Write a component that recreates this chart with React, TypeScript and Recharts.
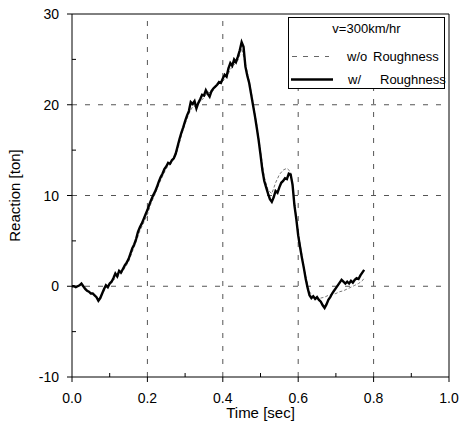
import React from 'react';
import { LineChart, Line, XAxis, YAxis, ReferenceLine, Legend } from 'recharts';

const xTicks = [0, 0.1, 0.2, 0.3, 0.4, 0.5, 0.6, 0.7, 0.8, 0.9, 1.0];
const yTicks = [-10, -5, 0, 5, 10, 15, 20, 25, 30];
const gridX = [0.2, 0.4, 0.6, 0.8];
const gridY = [0, 10, 20];

const speedTitle = 'v=300km/hr';
const smoothName = 'w/o Roughness';
const roughName = 'w/ Roughness';

// w/o roughness (thin dashed)
const smoothTimes = [
  0, 0.01, 0.02, 0.03, 0.04, 0.05, 0.06, 0.07, 0.08, 0.09,
  0.1, 0.11, 0.12, 0.13, 0.14, 0.15, 0.16, 0.17, 0.18, 0.19,
  0.2, 0.21, 0.22, 0.23, 0.24, 0.25, 0.26, 0.27, 0.28, 0.29,
  0.3, 0.31, 0.32, 0.33, 0.34, 0.35, 0.36, 0.37, 0.38, 0.39,
  0.4, 0.41, 0.42, 0.43, 0.44, 0.45, 0.46, 0.47, 0.48, 0.49,
  0.5, 0.51, 0.52, 0.53, 0.54, 0.55, 0.56, 0.57, 0.58, 0.59,
  0.6, 0.61, 0.62, 0.63, 0.64, 0.65, 0.66, 0.67, 0.68, 0.69,
  0.7, 0.71, 0.72, 0.73, 0.74, 0.75, 0.76, 0.77, 0.775,
];
const smoothValues = [
  0.0, 0.0, 0.1, 0.0, -0.4, -0.7, -1.0, -1.4, -0.9, -0.1,
  0.2, 0.7, 1.0, 1.4, 2.0, 2.7, 3.8, 4.9, 6.1, 7.0,
  7.9, 9.2, 10.1, 11.2, 12.1, 13.0, 13.4, 14.0, 15.0, 16.6,
  17.9, 19.0, 19.8, 19.9, 20.3, 20.8, 21.4, 21.3, 21.9, 22.3,
  22.6, 23.0, 23.9, 24.4, 24.9, 26.2, 24.5, 22.6, 20.3, 17.8,
  14.9, 12.0, 10.6, 10.2, 11.4, 12.3, 12.8, 13.0, 12.6, 9.3,
  5.9, 3.4, 1.1, -0.6, -1.2, -1.4, -1.3, -1.2, -1.0, -0.9,
  -0.8, -0.6, -0.5, -0.3, -0.1, 0.1, 0.3, 0.6, 0.9,
];

// w/ roughness (thick solid)
const roughTimes = [
  0, 0.005, 0.01, 0.015, 0.02, 0.025, 0.03, 0.035, 0.04, 0.045,
  0.05, 0.055, 0.06, 0.065, 0.07, 0.075, 0.08, 0.085, 0.09, 0.095,
  0.1, 0.105, 0.11, 0.115, 0.12, 0.125, 0.13, 0.135, 0.14, 0.145,
  0.15, 0.155, 0.16, 0.165, 0.17, 0.175, 0.18, 0.185, 0.19, 0.195,
  0.2, 0.205, 0.21, 0.215, 0.22, 0.225, 0.23, 0.235, 0.24, 0.245,
  0.25, 0.255, 0.26, 0.265, 0.27, 0.275, 0.28, 0.285, 0.29, 0.295,
  0.3, 0.305, 0.31, 0.315, 0.32, 0.325, 0.33, 0.335, 0.34, 0.345,
  0.35, 0.355, 0.36, 0.365, 0.37, 0.375, 0.38, 0.385, 0.39, 0.395,
  0.4, 0.405, 0.41, 0.415, 0.42, 0.425, 0.43, 0.435, 0.44, 0.445,
  0.45, 0.455, 0.46, 0.465, 0.47, 0.475, 0.48, 0.485, 0.49, 0.495,
  0.5, 0.505, 0.51, 0.515, 0.52, 0.525, 0.53, 0.535, 0.54, 0.545,
  0.55, 0.555, 0.56, 0.565, 0.57, 0.575, 0.58, 0.585, 0.59, 0.595,
  0.6, 0.605, 0.61, 0.615, 0.62, 0.625, 0.63, 0.635, 0.64, 0.645,
  0.65, 0.655, 0.66, 0.665, 0.67, 0.675, 0.68, 0.685, 0.69, 0.695,
  0.7, 0.705, 0.71, 0.715, 0.72, 0.725, 0.73, 0.735, 0.74, 0.745,
  0.75, 0.755, 0.76, 0.765, 0.77, 0.775,
];
const roughValues = [
  0.0, 0.0, -0.1, 0.0, 0.1, 0.3, 0.0, -0.3, -0.5, -0.6,
  -0.8, -0.8, -1.0, -1.2, -1.6, -1.3, -0.8, -0.3, 0.1, -0.1,
  0.3, 0.5, 0.9, 1.4, 1.1, 1.7, 1.5, 1.9, 2.3, 2.6,
  3.0, 3.6, 4.2, 4.6, 5.2, 6.0, 6.5, 6.9, 7.4, 7.9,
  8.4, 9.0, 9.5, 10.0, 10.4, 10.9, 11.5, 12.0, 12.4, 12.9,
  13.2, 13.6, 13.5, 13.9, 14.1, 14.6, 15.4, 16.2, 16.9, 17.5,
  18.2, 18.8, 19.3, 20.3, 20.1, 20.4, 19.6, 20.2, 20.6, 21.1,
  21.0, 21.6, 21.2, 20.9, 21.5, 21.8, 22.0, 22.2, 22.5, 22.4,
  22.9, 23.3, 23.1, 24.0, 24.6, 24.3, 25.0, 24.7, 25.3, 26.0,
  26.9, 26.4, 24.2, 23.2, 22.4, 21.2, 20.0, 18.8, 17.5, 16.1,
  14.5, 12.8, 11.6, 10.9, 10.2, 9.6, 9.3, 9.8, 10.5, 10.3,
  10.9, 11.4, 11.6, 11.9, 11.8, 12.4, 12.3, 11.2, 8.9, 7.4,
  5.6, 4.3, 3.1, 2.0, 0.8, -0.2, -1.0, -1.3, -1.1, -1.4,
  -1.2, -1.5, -1.7, -2.1, -2.4, -2.0, -1.5, -1.2, -0.8, -0.5,
  -0.2, 0.1, 0.4, 0.7, 0.5, 0.3, 0.5, 0.3, 0.6, 0.4,
  0.7, 0.9, 0.8, 1.2, 1.5, 1.8,
];

const smoothData = smoothTimes.map((t, i) => ({ t, v: smoothValues[i] }));
const roughData = roughTimes.map((t, i) => ({ t, v: roughValues[i] }));

const FONT = '"Liberation Sans", Arial, sans-serif';

// major ticks point out and get a label, minor ones point in
const BottomTick = (props: any) => {
  const { x, y, index, payload } = props;
  const major = index % 2 === 0;
  return (
    <g>
      <line x1={x} x2={x} y1={y} y2={major ? y + 5 : y - 4} stroke="#000" />
      {major && (
        <text x={x} y={y + 26} textAnchor="middle" fontSize={14} fill="#000" fontFamily={FONT}>
          {payload.value.toFixed(1)}
        </text>
      )}
    </g>
  );
};

const TopTick = (props: any) => {
  const { x, y, index } = props;
  const major = index % 2 === 0;
  return <line x1={x} x2={x} y1={y} y2={major ? y - 5 : y + 4} stroke="#000" />;
};

const LeftTick = (props: any) => {
  const { x, y, index, payload } = props;
  const major = index % 2 === 0;
  return (
    <g>
      <line x1={x} x2={major ? x - 5 : x + 4} y1={y} y2={y} stroke="#000" />
      {major && (
        <text x={x - 13} y={y} dy="0.36em" textAnchor="end" fontSize={14} fill="#000" fontFamily={FONT}>
          {payload.value}
        </text>
      )}
    </g>
  );
};

const RightTick = (props: any) => {
  const { x, y, index } = props;
  const major = index % 2 === 0;
  return <line x1={x} x2={major ? x + 5 : x - 4} y1={y} y2={y} stroke="#000" />;
};

const LegendBox = () => {
  const [pre1, word1] = smoothName.split(' ');
  const [pre2, word2] = roughName.split(' ');
  const txt: React.CSSProperties = { position: 'absolute', fontSize: 13, lineHeight: '15px', color: '#000', whiteSpace: 'nowrap' };
  return (
    <div
      style={{
        position: 'relative',
        width: 157,
        height: 72,
        boxSizing: 'border-box',
        border: '1px solid #000',
        background: '#fff',
        fontFamily: FONT,
      }}
    >
      <div style={{ ...txt, left: 0, right: 0, top: 3, textAlign: 'center' }}>{speedTitle}</div>
      <svg width={50} height={72} style={{ position: 'absolute', left: 0, top: 0 }}>
        <line x1={3} x2={40} y1={38.5} y2={38.5} stroke="#666" strokeDasharray="5 6" />
        <line x1={2} x2={44} y1={61.5} y2={61.5} stroke="#000" strokeWidth={2.5} />
      </svg>
      <div style={{ ...txt, left: 58, top: 31 }}>{pre1}</div>
      <div style={{ ...txt, left: 84, top: 31 }}>{word1}</div>
      <div style={{ ...txt, left: 59, top: 54 }}>{pre2}</div>
      <div style={{ ...txt, left: 91, top: 54 }}>{word2}</div>
    </div>
  );
};

export default function App() {
  return (
    <div style={{ position: 'absolute', left: 0, top: 0, width: 460, height: 428, background: '#fff', fontFamily: FONT }}>
      <LineChart width={460} height={428} margin={{ top: 0, right: 0, bottom: 0, left: 0 }}>
        <XAxis
          dataKey="t"
          type="number"
          domain={[0, 1]}
          ticks={xTicks}
          interval={0}
          height={51}
          tickSize={0}
          tickMargin={0}
          tickLine={false}
          axisLine={{ stroke: '#000' }}
          tick={(p: any) => <BottomTick {...p} />}
          label={{ value: 'Time [sec]', position: 'insideBottom', offset: 10, fill: '#000', fontSize: 15 }}
        />
        <XAxis
          xAxisId="top"
          orientation="top"
          dataKey="t"
          type="number"
          domain={[0, 1]}
          ticks={xTicks}
          interval={0}
          height={14}
          tickSize={0}
          tickMargin={0}
          tickLine={false}
          axisLine={{ stroke: '#000' }}
          tick={(p: any) => <TopTick {...p} />}
        />
        <YAxis
          type="number"
          domain={[-10, 30]}
          ticks={yTicks}
          interval={0}
          width={72}
          tickSize={0}
          tickMargin={0}
          tickLine={false}
          axisLine={{ stroke: '#000' }}
          tick={(p: any) => <LeftTick {...p} />}
          label={{
            value: 'Reaction [ton]',
            angle: -90,
            position: 'insideLeft',
            offset: 15,
            fill: '#000',
            fontSize: 15,
            style: { textAnchor: 'middle' },
          }}
        />
        <YAxis
          yAxisId="right"
          orientation="right"
          type="number"
          domain={[-10, 30]}
          ticks={yTicks}
          interval={0}
          width={11}
          tickSize={0}
          tickMargin={0}
          tickLine={false}
          axisLine={{ stroke: '#000' }}
          tick={(p: any) => <RightTick {...p} />}
        />
        {gridX.map((v) => (
          <ReferenceLine key={'gx' + v} x={v} stroke="#555" strokeDasharray="5 8" />
        ))}
        {gridY.map((v) => (
          <ReferenceLine key={'gy' + v} y={v} stroke="#555" strokeDasharray="5 8" />
        ))}
        <Line
          data={smoothData}
          dataKey="v"
          name={smoothName}
          type="linear"
          stroke="#777"
          strokeWidth={1}
          strokeDasharray="3 2"
          dot={false}
          isAnimationActive={false}
        />
        <Line
          data={roughData}
          dataKey="v"
          name={roughName}
          type="linear"
          stroke="#000"
          strokeWidth={2.4}
          dot={false}
          isAnimationActive={false}
        />
        <Legend
          layout="vertical"
          align="center"
          verticalAlign="middle"
          wrapperStyle={{ left: 288, top: 17, width: 157 }}
          content={() => <LegendBox />}
        />
      </LineChart>
    </div>
  );
}
